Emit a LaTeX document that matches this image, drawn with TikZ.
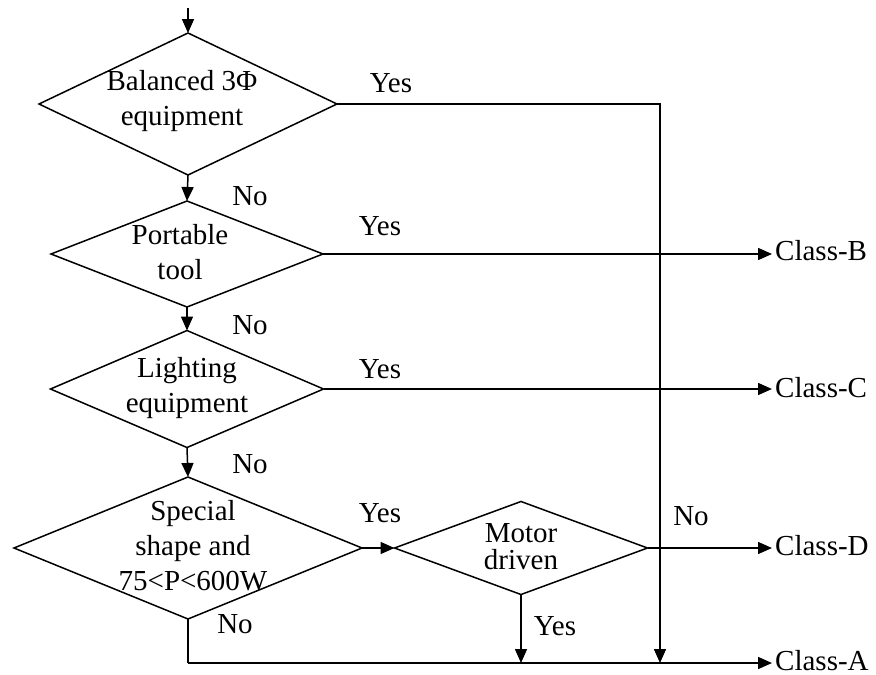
\documentclass[tikz,border=0pt]{standalone}
\usepackage{fontspec}
\setmainfont{Liberation Serif}
\usetikzlibrary{shapes.geometric,arrows.meta}
\begin{document}
\begin{tikzpicture}[x=1pt,y=-1pt,
  dia/.style={draw,line width=1.5pt,shape=diamond,inner sep=0pt,outer sep=0pt},
  txt/.style={font=\fontsize{29}{35}\selectfont,align=center,inner sep=0pt,anchor=base},
  lbl/.style={font=\fontsize{29}{35}\selectfont,inner sep=0pt,anchor=base},
  cls/.style={font=\fontsize{29}{35}\selectfont,inner sep=0pt,anchor=base west},
  ln/.style={line width=1.5pt},
  arr/.style={line width=1.5pt,-{Triangle[length=14pt,width=12pt]}}]
\useasboundingbox (0,0) rectangle (876,675);
% decisions
\node[dia,minimum width=298pt,minimum height=142pt] (d1) at (188,104) {};
\node[dia,minimum width=272pt,minimum height=106pt] (d2) at (187,254) {};
\node[dia,minimum width=273pt,minimum height=117pt] (d3) at (187,389) {};
\node[dia,minimum width=348pt,minimum height=142pt] (d4) at (188,548) {};
\node[dia,minimum width=253pt,minimum height=93pt] (d5) at (521,548) {};
% texts
\node[txt] (t1) at (182,125) {Balanced 3Φ\\equipment};
\node[txt] (t2) at (180,279) {Portable\\tool};
\node[txt] (t3) at (187,412) {Lighting\\equipment};
\node[txt] (t4) at (193,590) {Special\\shape and\\75<P<600W};
\node[txt] (t5) at (521,569) {Motor\\[-8pt]driven};
% outputs
\node[cls] (cB) at (775,260) {Class-B};
\node[cls] (cC) at (775,397) {Class-C};
\node[cls] (cD) at (775,555) {Class-D};
\node[cls] (cA) at (775,670) {Class-A};
% labels
\node[lbl] (y1) at (391,92) {Yes};
\node[lbl] (n1) at (250,205) {No};
\node[lbl] (y2) at (380,235) {Yes};
\node[lbl] (n2) at (250,334) {No};
\node[lbl] (y3) at (380,378) {Yes};
\node[lbl] (n3) at (250,473) {No};
\node[lbl] (y4) at (380,522) {Yes};
\node[lbl] (n4) at (235,633) {No};
\node[lbl] (n5) at (691,525) {No};
\node[lbl] (y5) at (555,635) {Yes};
% connectors
\coordinate (start) at (188,8);
\coordinate (bendA) at (188,663);
\coordinate (jA) at (660,663);
\draw[arr] (start) -- (d1.north);
\draw[arr] (d1.south) -- (d2.north);
\draw[arr] (d2.south) -- (d3.north);
\draw[arr] (d3.south) -- (d4.north);
\draw[arr] (d1.east) -| (jA);
\draw[arr,shorten >=3pt] (d2.east) -- (d2.east -| cB.west);
\draw[arr,shorten >=3pt] (d3.east) -- (d3.east -| cC.west);
\draw[arr] (d4.east) -- (d5.west);
\draw[arr,shorten >=3pt] (d5.east) -- (d5.east -| cD.west);
\draw[arr] (d5.south) -- (d5.south |- bendA);
\draw[ln] (d4.south) -- (bendA);
\draw[arr,shorten >=3pt] (bendA) -- (bendA -| cA.west);
\end{tikzpicture}
\end{document}
